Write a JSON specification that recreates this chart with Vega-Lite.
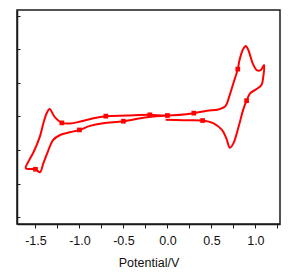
{
  "$schema": "https://vega.github.io/schema/vega-lite/v6.json",
  "width": 263,
  "height": 214,
  "autosize": {"type": "none"},
  "padding": {"left": 17, "top": 10, "right": 22, "bottom": 52},
  "background": "white",
  "config": {
    "view": {"stroke": "#1a1a1a", "strokeWidth": 1.5},
    "axis": {"grid": false, "domainColor": "#1a1a1a", "domainWidth": 1.5, "tickColor": "#1a1a1a", "labelFont": "Liberation Sans", "titleFont": "Liberation Sans", "labelColor": "#111", "titleColor": "#111"}
  },
  "datasets": {
    "cv": [
      {"i": 1, "v": -0.02, "c": 2.90},
      {"i": 2, "v": 0.18, "c": 2.89},
      {"i": 3, "v": 0.40, "c": 2.88},
      {"i": 4, "v": 0.52, "c": 2.80},
      {"i": 5, "v": 0.62, "c": 2.60},
      {"i": 6, "v": 0.67, "c": 2.35},
      {"i": 7, "v": 0.71, "c": 2.07},
      {"i": 8, "v": 0.75, "c": 2.20},
      {"i": 9, "v": 0.81, "c": 2.70},
      {"i": 10, "v": 0.86, "c": 3.19},
      {"i": 11, "v": 0.90, "c": 3.47},
      {"i": 12, "v": 0.94, "c": 3.69},
      {"i": 13, "v": 1.01, "c": 3.81},
      {"i": 14, "v": 1.07, "c": 3.94},
      {"i": 15, "v": 1.09, "c": 4.19},
      {"i": 16, "v": 1.10, "c": 4.53},
      {"i": 17, "v": 1.06, "c": 4.38},
      {"i": 18, "v": 1.02, "c": 4.37},
      {"i": 19, "v": 0.97, "c": 4.58},
      {"i": 20, "v": 0.92, "c": 4.98},
      {"i": 21, "v": 0.89, "c": 5.10},
      {"i": 22, "v": 0.86, "c": 5.00},
      {"i": 23, "v": 0.82, "c": 4.68},
      {"i": 24, "v": 0.80, "c": 4.41},
      {"i": 25, "v": 0.75, "c": 3.99},
      {"i": 26, "v": 0.70, "c": 3.57},
      {"i": 27, "v": 0.66, "c": 3.31},
      {"i": 28, "v": 0.58, "c": 3.21},
      {"i": 29, "v": 0.45, "c": 3.17},
      {"i": 30, "v": 0.30, "c": 3.10},
      {"i": 31, "v": 0.00, "c": 3.03},
      {"i": 32, "v": -0.20, "c": 3.05},
      {"i": 33, "v": -0.46, "c": 3.03},
      {"i": 34, "v": -0.70, "c": 3.01},
      {"i": 35, "v": -0.84, "c": 2.95},
      {"i": 36, "v": -0.99, "c": 2.85},
      {"i": 37, "v": -1.11, "c": 2.79},
      {"i": 38, "v": -1.20, "c": 2.81},
      {"i": 39, "v": -1.28, "c": 2.98},
      {"i": 40, "v": -1.34, "c": 3.22},
      {"i": 41, "v": -1.37, "c": 3.11},
      {"i": 42, "v": -1.41, "c": 2.80},
      {"i": 43, "v": -1.45, "c": 2.40},
      {"i": 44, "v": -1.52, "c": 1.95},
      {"i": 45, "v": -1.57, "c": 1.71},
      {"i": 46, "v": -1.61, "c": 1.46},
      {"i": 47, "v": -1.50, "c": 1.43},
      {"i": 48, "v": -1.45, "c": 1.34},
      {"i": 49, "v": -1.41, "c": 1.61},
      {"i": 50, "v": -1.36, "c": 1.95},
      {"i": 51, "v": -1.30, "c": 2.30},
      {"i": 52, "v": -1.22, "c": 2.45},
      {"i": 53, "v": -1.11, "c": 2.53},
      {"i": 54, "v": -1.00, "c": 2.60},
      {"i": 55, "v": -0.88, "c": 2.72},
      {"i": 56, "v": -0.73, "c": 2.80},
      {"i": 57, "v": -0.50, "c": 2.86},
      {"i": 58, "v": -0.23, "c": 2.98},
      {"i": 59, "v": 0.00, "c": 3.03}
    ],
    "mk": [
      {"v": -1.50, "c": 1.43},
      {"v": -1.20, "c": 2.81},
      {"v": -1.00, "c": 2.60},
      {"v": -0.70, "c": 3.01},
      {"v": -0.50, "c": 2.86},
      {"v": -0.20, "c": 3.05},
      {"v": 0.00, "c": 3.03},
      {"v": 0.30, "c": 3.10},
      {"v": 0.40, "c": 2.88},
      {"v": 0.80, "c": 4.41},
      {"v": 0.90, "c": 3.47}
    ]
  },
  "encoding": {
    "x": {
      "field": "v", "type": "quantitative",
      "scale": {"domain": [-1.71, 1.28], "nice": false, "zero": false},
      "axis": {
        "values": [-1.5, -1.25, -1.0, -0.75, -0.5, -0.25, 0, 0.25, 0.5, 0.75, 1.0, 1.25],
        "labelExpr": "abs(datum.value*2 - round(datum.value*2)) < 0.001 ? (datum.value < 0 ? '-' : '') + format(abs(datum.value), '.1f') : ''",
        "tickSize": 4, "labelFontSize": 12.5, "labelPadding": 6,
        "title": "Potential/V", "titleFontSize": 12.5, "titleFontWeight": "normal", "titlePadding": 10
      }
    },
    "y": {
      "field": "c", "type": "quantitative",
      "scale": {"domain": [-0.2, 6.17], "nice": false, "zero": false},
      "axis": {"values": [0, 1, 2, 3, 4, 5, 6], "labels": false, "tickSize": -3, "title": null}
    }
  },
  "layer": [
    {
      "data": {"name": "cv"},
      "mark": {"type": "line", "color": "#ff0000", "strokeWidth": 2, "interpolate": "catmull-rom"},
      "encoding": {"order": {"field": "i", "type": "quantitative"}}
    },
    {
      "data": {"name": "mk"},
      "mark": {"type": "point", "shape": "square", "filled": true, "color": "#ff0000", "size": 22, "opacity": 1}
    }
  ]
}
